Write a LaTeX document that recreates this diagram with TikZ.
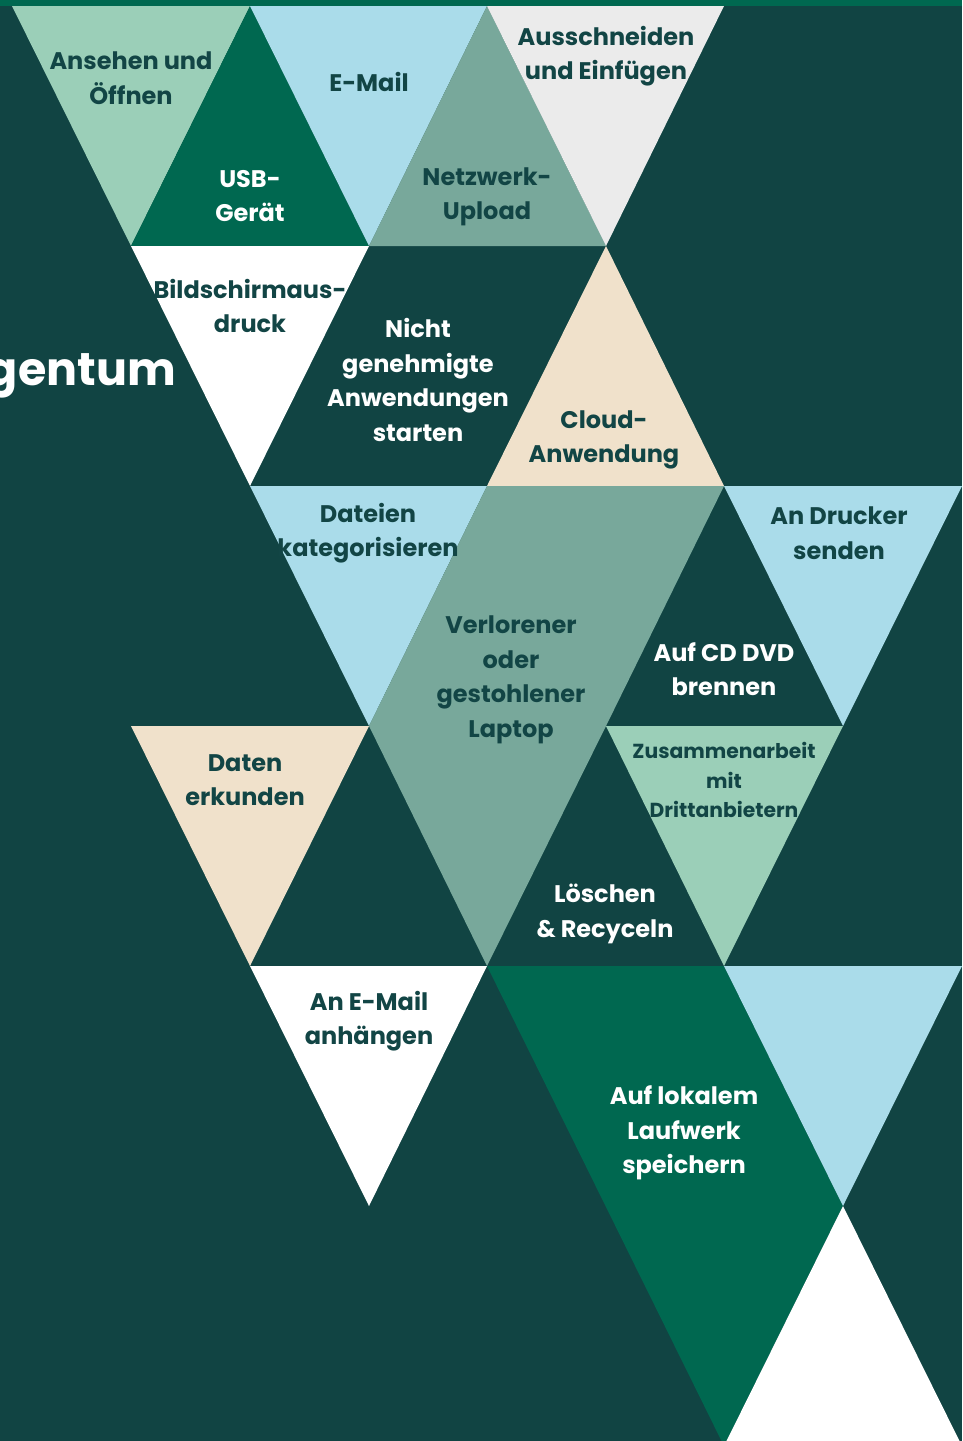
\documentclass[tikz,border=0pt]{standalone}
\usepackage{fontspec}
\setmainfont{Poppins}
\definecolor{bgc}{HTML}{114443}
\definecolor{dgreen}{HTML}{006850}
\definecolor{lgreen}{HTML}{9BCFB8}
\definecolor{lblue}{HTML}{AADCEA}
\definecolor{ggreen}{HTML}{78A89B}
\definecolor{lgrey}{HTML}{EBEBEB}
\definecolor{beige}{HTML}{F0E1CB}
\definecolor{txtd}{HTML}{124545}
\tikzset{
  lbl/.style={font=\bfseries\fontsize{24}{34.5}\selectfont, align=center, inner sep=0pt, text=txtd},
  lblw/.style={lbl, text=white},
  lbls/.style={lbl, font=\bfseries\fontsize{20.3}{29.5}\selectfont},
}
\begin{document}
\begin{tikzpicture}[x=1pt,y=-1pt]
\useasboundingbox (0,0) rectangle (962,1441);
\clip (0,0) rectangle (962,1441);
\fill[bgc] (0,0) rectangle (962,1441);
\fill[dgreen] (0,0) rectangle (962,6);
% row 1
\fill[lgreen] (12,6) -- (250,6) -- (131,246) -- cycle;
\fill[dgreen] (131,246) -- (250,6) -- (369,246) -- cycle;
\fill[lblue] (250,6) -- (487,6) -- (369,246) -- cycle;
\fill[ggreen] (369,246) -- (487,6) -- (606,246) -- cycle;
\fill[lgrey] (487,6) -- (724,6) -- (606,246) -- cycle;
% row 2
\fill[white] (131,246) -- (369,246) -- (250,486) -- cycle;
\fill[beige] (487,486) -- (606,246) -- (724,486) -- cycle;
% row 3
\fill[lblue] (250,486) -- (487,486) -- (369,726) -- cycle;
\fill[ggreen] (487,486) -- (724,486) -- (606,726) -- (487,966) -- (369,726) -- cycle;
\fill[lblue] (724,486) -- (962,486) -- (843,726) -- cycle;
% row 4
\fill[beige] (131,726) -- (369,726) -- (250,966) -- cycle;
\fill[lgreen] (606,726) -- (843,726) -- (724,966) -- cycle;
% row 5-6
\fill[white] (250,966) -- (487,966) -- (369,1206) -- cycle;
\fill[dgreen] (487,966) -- (724,966) -- (843,1206) -- (724,1446) -- cycle;
\fill[lblue] (724,966) -- (962,966) -- (843,1206) -- cycle;
\fill[white] (843,1206) -- (962,1446) -- (724,1446) -- cycle;
% title fragment
\node[anchor=base east, inner sep=0pt, text=white, font=\bfseries\fontsize{46}{56}\selectfont] (title) at (176,385) {gentum};
% labels
\node[lbl] (ansehen) at (131,78) {Ansehen und\\Öffnen};
\node[lblw] (usb) at (250,196) {USB-\\Gerät};
\node[lbl] (email) at (369,82) {E-Mail};
\node[lbl] (netz) at (487,197) {Netzwerk-\\Upload};
\node[lbl] (aus) at (606,56) {Ausschneiden\\und Einfügen};
\node[lbl] (bild) at (250,306) {Bildschirmaus-\\druck};
\node[lblw] (nicht) at (418,380) {Nicht\\genehmigte\\Anwendungen\\starten};
\node[lbl] (cloud) at (604,440) {Cloud-\\Anwendung};
\node[lbl] (dateien) at (368,533) {Dateien\\kategorisieren};
\node[lbl] (verl) at (511,680) {Verlorener\\oder\\gestohlener\\Laptop};
\node[lbl] (drucker) at (839,533) {An Drucker\\senden};
\node[lblw] (cd) at (724,669) {Auf CD DVD\\brennen};
\node[lbl] (daten) at (245,780) {Daten\\erkunden};
\node[lbls] (zus) at (724,780) {Zusammenarbeit\\mit\\Drittanbietern};
\node[lblw] (losch) at (605,914) {Löschen\\\& Recyceln};
\node[lbl] (anh) at (369,1021) {An E-Mail\\anhängen};
\node[lblw] (lokal) at (684,1133) {Auf lokalem\\Laufwerk\\speichern};
\end{tikzpicture}
\end{document}
